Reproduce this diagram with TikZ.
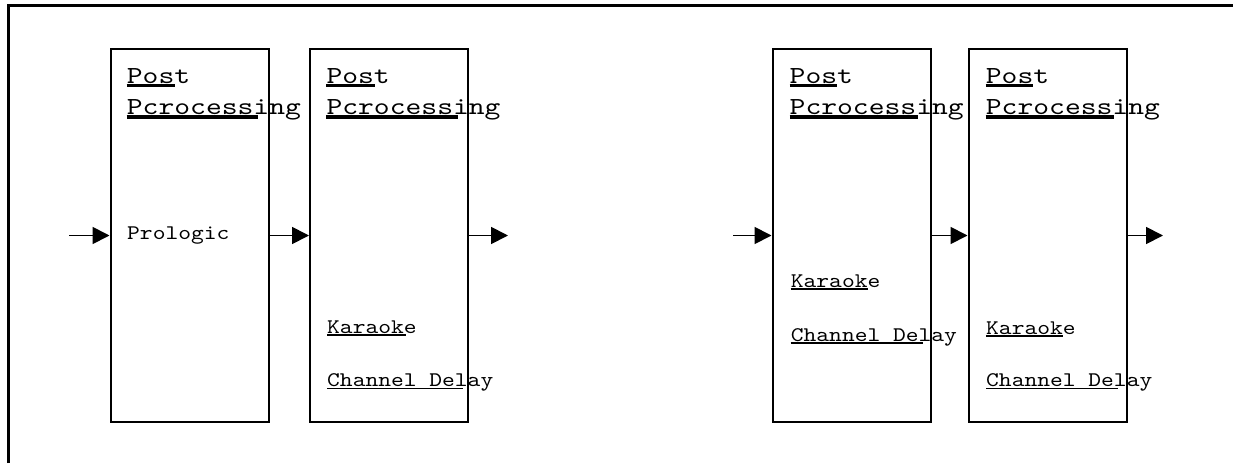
\documentclass[tikz,border=0pt]{standalone}
\usepackage{fontspec}
\newfontfamily\ctitle{lmmono10-regular}[Extension=.otf, FakeStretch=1.23]
\newfontfamily\clabel{lmmono10-regular}[Extension=.otf, FakeStretch=1.17]
\usetikzlibrary{arrows.meta}
\tikzset{
  blk/.style={draw, line width=2pt, minimum width=158pt, minimum height=373pt, inner sep=0pt},
  ttl/.style={anchor=base west, inner sep=0pt, font=\ctitle\fontsize{24.5}{24.5}\selectfont},
  lbl/.style={anchor=base west, inner sep=0pt, font=\clabel\fontsize{20.8}{20.8}\selectfont},
  flow/.style={line width=1.8pt, -{Triangle[length=17pt,width=17pt]}},
  ulthick/.style={line width=3.2pt},
  ulthin/.style={line width=1.4pt},
}
\begin{document}
\begin{tikzpicture}[x=1pt,y=-1pt]
\useasboundingbox (0,0) rectangle (1233,463);
% partial outer frame
\draw[line width=3pt] (8,463) -- (8,5) -- (1233,5);

% boxes
\node[blk] (b1) at (189.5,235.5) {};
\node[blk] (b2) at (389,235.5) {};
\node[blk] (b3) at (851.5,235.5) {};
\node[blk] (b4) at (1047.5,235.5) {};

% titles
\node[ttl] (p1a) at (126.7,83) {Post};
\node[ttl] (p1b) at (126.7,114) {Pcrocessing};
\node[ttl] (p2a) at (326.3,83) {Post};
\node[ttl] (p2b) at (326.3,114) {Pcrocessing};
\node[ttl] (p3a) at (789.5,83) {Post};
\node[ttl] (p3b) at (789.5,114) {Pcrocessing};
\node[ttl] (p4a) at (985.7,83) {Post};
\node[ttl] (p4b) at (985.7,114) {Pcrocessing};

\draw[ulthick] (126.7,85.8) -- (175,85.8);
\draw[ulthick] (126.7,117) -- (258.3,117);
\draw[ulthick] (326.3,85.8) -- (375,85.8);
\draw[ulthick] (326.3,117) -- (457.7,117);
\draw[ulthick] (789.5,85.8) -- (836.7,85.8);
\draw[ulthick] (789.5,117) -- (918.3,117);
\draw[ulthick] (985.7,85.8) -- (1033.3,85.8);
\draw[ulthick] (985.7,117) -- (1114.3,117);

% inner labels
\node[lbl] (pro) at (127,239) {Prologic};
\node[lbl] (k2) at (327,333) {Karaoke};
\node[lbl] (c2) at (327,386.7) {Channel Delay};
\node[lbl] (k3) at (790.7,287.3) {Karaoke};
\node[lbl] (c3) at (790.7,341) {Channel Delay};
\node[lbl] (k4) at (986,334) {Karaoke};
\node[lbl] (c4) at (986,386.7) {Channel Delay};

\draw[ulthin] (327,334.8) -- (406,334.8);
\draw[ulthin] (327,388.5) -- (462.7,388.5);
\draw[ulthin] (790.7,289.1) -- (868.3,289.1);
\draw[ulthin] (790.7,342.8) -- (923.3,342.8);
\draw[ulthin] (986,335.8) -- (1063.3,335.8);
\draw[ulthin] (986,388.5) -- (1118.3,388.5);

% connectors
\coordinate (in1) at (69,235.5);
\coordinate (out2) at (508,235.5);
\coordinate (in3) at (733,235.5);
\coordinate (out4) at (1163,235.5);
\draw[flow] (in1) -- (b1.west);
\draw[flow] (b1.east) -- (b2.west);
\draw[flow] (b2.east) -- (out2);
\draw[flow] (in3) -- (b3.west);
\draw[flow] (b3.east) -- (b4.west);
\draw[flow] (b4.east) -- (out4);
\end{tikzpicture}
\end{document}
